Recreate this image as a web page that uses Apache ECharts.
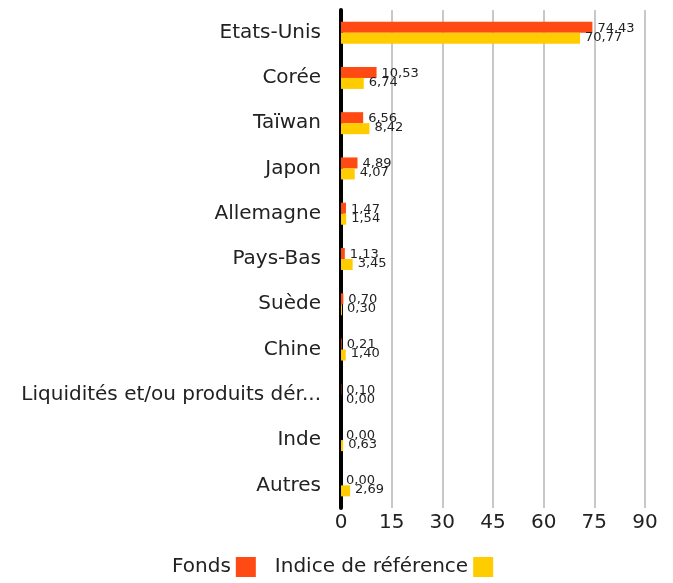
<!DOCTYPE html>
<html>
<head>
<meta charset="utf-8">
<script src="https://cdn.jsdelivr.net/npm/echarts@6/dist/echarts.min.js"></script>
<style>
  html, body { margin: 0; padding: 0; background: #fff; }
  #chart { width: 673px; height: 583px; }
</style>
</head>
<body>
<div id="chart"></div>
<script>
const countries = [
  "Etats-Unis", "Corée", "Taïwan", "Japon", "Allemagne", "Pays-Bas",
  "Suède", "Chine", "Liquidités et/ou produits dér...", "Inde", "Autres"
];
const fonds = [74.43, 10.53, 6.56, 4.89, 1.47, 1.13, 0.70, 0.21, 0.10, 0.00, 0.00];
const indice = [70.77, 6.74, 8.42, 4.07, 1.54, 3.45, 0.30, 1.40, 0.00, 0.63, 2.69];

const fontFamily = "DejaVu Sans";
const chart = echarts.init(document.getElementById("chart"));

function fmt(p) {
  return p.value.toFixed(2).replace(".", ",");
}

const option = {
  animation: false,
  textStyle: { fontFamily: fontFamily },
  grid: { left: 341, right: 28, top: 10, bottom: 75 },
  legend: {
    top: 552,
    left: 167,
    align: "right",
    icon: "rect",
    itemWidth: 20,
    itemHeight: 20,
    itemGap: 19,
    textStyle: { fontSize: 20, color: "#222", fontFamily: fontFamily },
    data: ["Fonds", "Indice de référence"],
  },
  xAxis: {
    type: "value",
    min: 0,
    max: 90,
    interval: 15,
    axisLine: { show: false },
    axisTick: { show: false },
    axisLabel: { fontSize: 20, color: "#222", margin: 5 },
    splitLine: { show: true, lineStyle: { color: "#c8c8c8", width: 2 } },
  },
  yAxis: {
    type: "category",
    inverse: true,
    data: countries,
    axisLine: { show: true, onZero: false, lineStyle: { color: "#000", width: 4 } },
    axisTick: { show: false },
    axisLabel: { fontSize: 20, color: "#222", margin: 20 },
  },
  series: [
    {
      name: "Fonds",
      type: "bar",
      data: fonds,
      barWidth: 11,
      barGap: "0%",
      itemStyle: { color: "#ff4a14" },
      label: {
        show: true,
        position: "right",
        distance: 5,
        offset: [0, 1],
        fontSize: 13,
        color: "#222",
        formatter: fmt,
      },
    },
    {
      name: "Indice de référence",
      type: "bar",
      data: indice,
      barWidth: 11,
      itemStyle: { color: "#ffcc00" },
      label: {
        show: true,
        position: "right",
        distance: 5,
        offset: [0, -1],
        fontSize: 13,
        color: "#222",
        formatter: fmt,
      },
    },
  ],
};

chart.setOption(option);

window.addEventListener("resize", () => {
  chart.resize();
});
</script>
</body>
</html>
